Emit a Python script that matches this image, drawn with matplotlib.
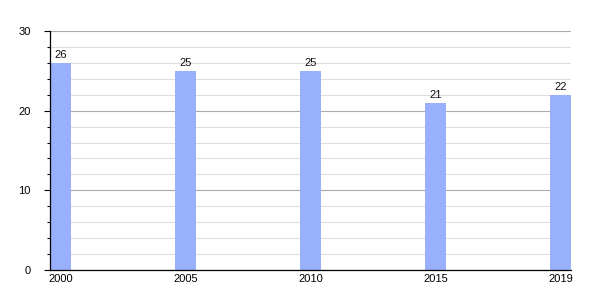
import matplotlib
matplotlib.use('Agg')
import matplotlib.pyplot as plt
from matplotlib.ticker import MultipleLocator

plt.rcParams['font.family'] = ['Liberation Sans', 'DejaVu Sans']

# data
years = ['2000', '2005', '2010', '2015', '2019']
values = [26, 25, 25, 21, 22]

fig = plt.figure(figsize=(6, 3), dpi=100)
ax = fig.add_axes([0.0833, 0.1, 0.8684, 0.7967])

x = range(len(years))
w = 0.168
bars = ax.bar(x, values, width=w, color='#99b1fc', zorder=3)

for xi, v in zip(x, values):
    ax.text(xi, v + 0.4, str(v), ha='center', va='bottom', fontsize=8, color='#111111')

ax.set_xlim(-w / 2, len(years) - 1 + w / 2)
ax.set_ylim(0, 30)
ax.yaxis.set_major_locator(MultipleLocator(10))
ax.yaxis.set_minor_locator(MultipleLocator(2))
ax.set_xticks(list(x))
ax.set_xticklabels(years)

ax.grid(axis='y', which='major', color='#aaaaaa', linewidth=0.8, zorder=1)
ax.grid(axis='y', which='minor', color='#dddddd', linewidth=0.8, zorder=0)

for s in ['top', 'right']:
    ax.spines[s].set_visible(False)
for s in ['left', 'bottom']:
    ax.spines[s].set_linewidth(0.9)
    ax.spines[s].set_zorder(5)

ax.tick_params(axis='y', which='major', length=4, width=0.8, labelsize=8, pad=10)
ax.tick_params(axis='y', which='minor', length=2, width=0.8)
ax.tick_params(axis='x', length=0, labelsize=8, pad=3)

fig.savefig('out.png', dpi=100)
